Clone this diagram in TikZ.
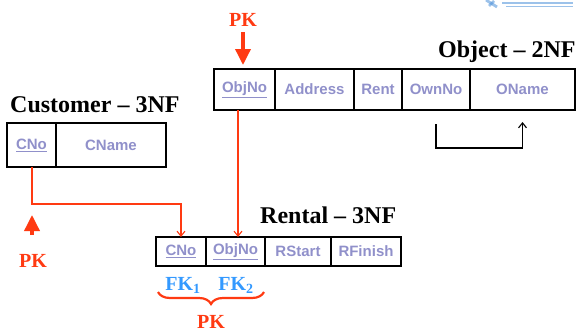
\documentclass[tikz,border=0pt]{standalone}
\usepackage{fontspec}
\setmainfont{Liberation Serif}
\setsansfont{Liberation Sans}[BoldFont={Liberation Sans Bold}]
\usetikzlibrary{arrows.meta,decorations.pathreplacing}
\definecolor{attr}{HTML}{9090CA}
\definecolor{keyred}{HTML}{FF3A12}
\definecolor{fkblue}{HTML}{3399FF}
\definecolor{logoblue}{HTML}{4A8FD8}
\tikzset{
  cell/.style={draw=black, line width=1.6pt, inner sep=0pt, outer sep=0pt,
    anchor=north west, font=\sffamily\bfseries\fontsize{15}{15}\selectfont,
    text=attr},
  title/.style={anchor=base west, inner sep=0pt,
    font=\rmfamily\bfseries\fontsize{24}{24}\selectfont},
  pklabel/.style={anchor=base, inner sep=0pt, text=keyred,
    font=\rmfamily\bfseries\fontsize{20}{20}\selectfont},
  fklabel/.style={anchor=base, inner sep=0pt, text=fkblue,
    font=\rmfamily\bfseries\fontsize{20}{20}\selectfont},
  link/.style={draw=keyred, line width=1.3pt,
    -{Straight Barb[length=5pt,width=8pt,line width=1.1pt]}},
  pkarrow/.style={draw=keyred, line width=3.5pt,
    -{Triangle[length=16pt 0,width=15pt 0]}},
  selfdep/.style={draw=black, line width=1.3pt,
    -{Straight Barb[length=5pt,width=8pt,line width=1.1pt]}},
}
\begin{document}
\begin{tikzpicture}[x=1pt,y=-1pt]
\useasboundingbox (0,0) rectangle (576,332);

% faint logo fragment in the top corner
\begin{scope}[opacity=0.55, line width=2.8pt, draw=logoblue]
  \draw (486,0) -- (497,7);
  \draw (494,1) -- (489,6);
  \draw (502,3) -- (573,3);
  \draw[line width=1.8pt] (506,6.5) -- (573,6.5);
\end{scope}

% Object relation
\node[title] (tobj) at (438,57) {Object -- 2NF};
\node[cell, minimum width=61pt, minimum height=41pt] (o1) at (214,69) {\underline{ObjNo}};
\node[cell, minimum width=79pt, minimum height=41pt] (o2) at (275,69) {Address};
\node[cell, minimum width=48pt, minimum height=41pt] (o3) at (354,69) {Rent};
\node[cell, minimum width=68pt, minimum height=41pt] (o4) at (402,69) {OwnNo};
\node[cell, minimum width=105pt, minimum height=41pt] (o5) at (470,69) {OName};

% Customer relation
\node[title] (tcus) at (10,112) {Customer -- 3NF};
\node[cell, minimum width=49pt, minimum height=44pt] (c1) at (7,123) {\underline{CNo}};
\node[cell, minimum width=110pt, minimum height=44pt] (c2) at (56,123) {CName};

% Rental relation
\node[title] (tren) at (260,223) {Rental -- 3NF};
\node[cell, minimum width=50pt, minimum height=29pt] (r1) at (156,237) {\underline{CNo}};
\node[cell, minimum width=59pt, minimum height=29pt] (r2) at (206,237) {\underline{ObjNo}};
\node[cell, minimum width=66pt, minimum height=29pt] (r3) at (265,237) {RStart};
\node[cell, minimum width=70pt, minimum height=29pt] (r4) at (331,237) {RFinish};

% primary key markers
\node[pklabel] (pktop) at (243,27) {PK};
\coordinate (pktip) at (243,65);
\draw[pkarrow] (243,32) -- (pktip);

\node[pklabel] (pkleft) at (33,267) {PK};
\coordinate (pkltip) at (32,215);
\draw[pkarrow] (32,235) -- (pkltip);

% foreign keys of Rental
\node[fklabel] (fk1) at (183,290) {FK\textsubscript{1}};
\node[fklabel] (fk2) at (236,290) {FK\textsubscript{2}};
\coordinate (brl) at (158,292);
\coordinate (brr) at (264,292);
\draw[draw=keyred, line width=2.2pt,
  decorate, decoration={brace, mirror, amplitude=12pt}] (brl) -- (brr);
\node[pklabel] (pkbot) at (211,328) {PK};

% foreign key links
\coordinate (cbend) at (0,204);
\draw[link] (c1.south -| 32,0) -- (cbend -| 32,0) -| (r1.north);
\coordinate (objx) at (238,0);
\draw[link] (o1.south -| objx) -- (r2.north -| objx);

% functional dependency OwnNo -> OName
\draw[selfdep] ([yshift=-14pt]o4.south) |- (0,148 -| o5.south) -- ([yshift=-12pt]o5.south);
\end{tikzpicture}
\end{document}
